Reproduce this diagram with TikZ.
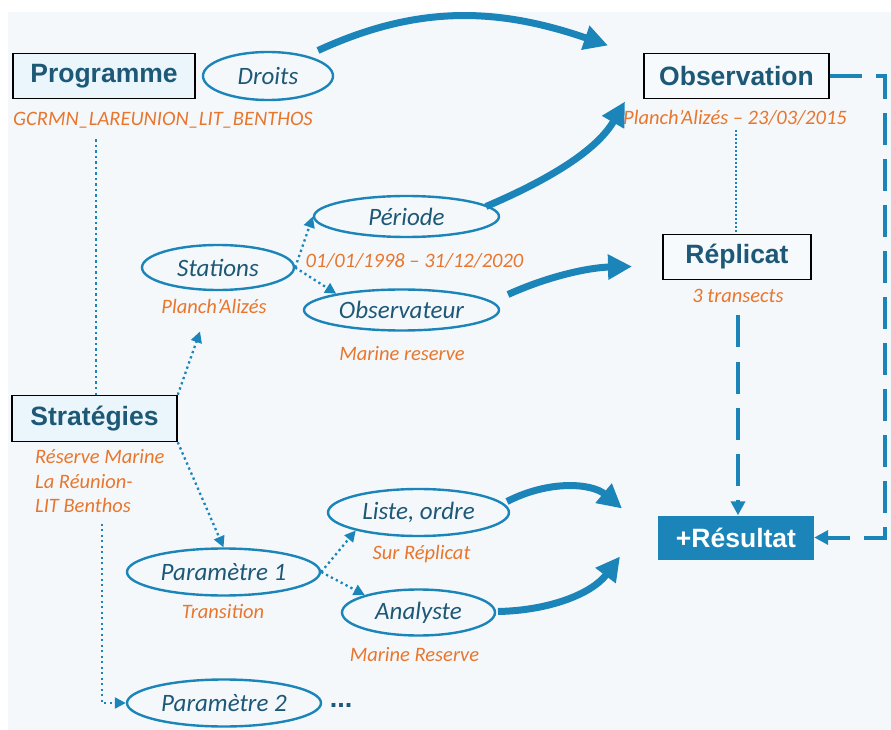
\documentclass[tikz,border=0pt]{standalone}
\usepackage{fontspec}
\setmainfont{Carlito}
\newfontfamily\arialf{Liberation Sans}
\usetikzlibrary{shapes.geometric,arrows.meta}
\definecolor{bg}{HTML}{F4F8FB}
\definecolor{blu}{HTML}{1B85BA}
\definecolor{dk}{HTML}{1D5877}
\definecolor{org}{HTML}{E8762D}
\definecolor{boxa}{HTML}{EAF5FC}
\definecolor{boxb}{HTML}{F6FAFD}
\begin{document}
\begin{tikzpicture}[x=1pt,y=-1pt,
 oval/.style={ellipse,draw=blu,line width=2.4pt,inner sep=0pt,font=\fontsize{25}{28}\selectfont\itshape,text=dk},
 sub/.style={font=\fontsize{20.5}{24.5}\selectfont\itshape,text=org,inner sep=0pt},
 hbox/.style={draw=black,line width=1.6pt,font=\arialf\bfseries\fontsize{26.5}{30}\selectfont,text=dk,inner sep=0pt,fill=boxa},
 dotc/.style={draw=blu,line width=2.3pt,dash pattern=on 2.3pt off 3.2pt},
 dotarr/.style={dotc,-{Triangle[length=11pt,width=11pt]}},
 bigarr/.style={draw=blu,line width=7pt,-{Triangle[length=24pt,width=24pt]}},
 dsh/.style={draw=blu,line width=4pt,dash pattern=on 32pt off 14pt},
 dsharr/.style={dsh,-{Triangle[length=14pt,width=14pt]}},
]
\fill[white] (0,0) rectangle (891,726);
\fill[bg] (8,9) rectangle (891,726);

% boxes
\node[hbox,minimum width=182pt,minimum height=45pt] (prog) at (104,72.5) {Programme};
\node[sub] (gcrmn) at (163,117) {GCRMN\_LAREUNION\_LIT\_BENTHOS};
\node[oval,minimum width=130pt,minimum height=48pt] (droits) at (268,72.5) {Droits};

\node[hbox,fill=boxb,minimum width=185pt,minimum height=45pt] (obs) at (736.5,72.5) {Observation};
\node[sub] (obsl) at (735,114) {Planch'Alizés – 23/03/2015};

\node[hbox,fill=boxb,minimum width=148pt,minimum height=45pt] (rep) at (737,253.5) {Réplicat};
\node[sub] (repl) at (738,292) {3 transects};

\node[fill=blu,text=white,font=\arialf\bfseries\fontsize{26.5}{30}\selectfont,inner sep=0pt,minimum width=156pt,minimum height=44pt] (res) at (736,534) {+Résultat};

\node[oval,minimum width=152pt,minimum height=45pt] (stat) at (218,264) {Stations};
\node[sub] (statl) at (214,303) {Planch'Alizés};

\node[oval,minimum width=185pt,minimum height=41pt] (per) at (406.5,213) {Période};
\node[sub] (perl) at (414.5,257) {01/01/1998 – 31/12/2020};

\node[oval,minimum width=195pt,minimum height=41pt] (obsv) at (401.5,306.5) {Observateur};
\node[sub] (obsvl) at (402,350) {Marine reserve};

\node[hbox,minimum width=165pt,minimum height=46pt] (strat) at (94.5,415) {Stratégies};
\node[sub,align=left,anchor=north west] (stratl) at (35,446) {Réserve Marine\\La Réunion-\\LIT Benthos};

\node[oval,minimum width=193pt,minimum height=47pt] (p1) at (223.5,568.5) {Paramètre 1};
\node[sub] (p1l) at (223,608) {Transition};

\node[oval,minimum width=181pt,minimum height=47pt] (liste) at (418.5,509) {Liste, ordre};
\node[sub] (listel) at (421.5,551) {Sur Réplicat};

\node[oval,minimum width=153pt,minimum height=46pt] (ana) at (418.5,609) {Analyste};
\node[sub] (anal) at (414.5,651) {Marine Reserve};

\node[oval,minimum width=194pt,minimum height=47pt] (p2) at (224,699.5) {Paramètre 2};
\node[font=\arialf\bfseries\fontsize{27}{30}\selectfont,text=dk,inner sep=0pt] (etc) at (341,702) {...};

% dotted connectors
\coordinate (pa) at (96,136);
\draw[dotc] (pa) -- (pa |- strat.north);
\coordinate (sa) at (200,328);
\draw[dotarr] (strat.north east) -- (sa);
\draw[dotarr] (strat.south east) -- (p1.north);
\coordinate (sb) at (102,520);
\draw[dotarr] (sb) |- (p2.west);
\draw[dotarr] (stat.east) -- (per.west);
\draw[dotarr] (stat.east) -- (obsv.166);
\draw[dotarr] (p1.east) -- (liste.196);
\draw[dotarr] (p1.east) -- (ana.162);
\coordinate (oa) at (736,127);
\draw[dotc,line width=1.5pt,dash pattern=on 1.5pt off 2.5pt] (oa) -- (oa |- rep.north);

% thick arrows
\coordinate (t1s) at (318,47);
\coordinate (t1e) at (608,42);
\draw[bigarr] (t1s) .. controls (420,0) and (500,5) .. (t1e);
\coordinate (t2s) at (486,203);
\coordinate (t2e) at (625,98);
\draw[bigarr] (t2s) .. controls (540,180) and (595,150) .. (t2e);
\coordinate (t3s) at (508,291);
\coordinate (t3e) at (632,263);
\draw[bigarr] (t3s) .. controls (550,272) and (590,264) .. (t3e);
\coordinate (t4s) at (507,498);
\coordinate (t4e) at (622,505);
\draw[bigarr] (t4s) .. controls (550,476) and (592,480) .. (t4e);
\coordinate (t5s) at (498,608);
\coordinate (t5e) at (620,553);
\draw[bigarr] (t5s) .. controls (550,607) and (592,590) .. (t5e);

% dashed connectors
\coordinate (rb) at (738,312);
\draw[dsharr] (rb) -- (rb |- res.north);
\coordinate (c1) at (885,72.5);
\draw[dsharr] (obs.east) -- (c1) |- (res.east);
\end{tikzpicture}
\end{document}
